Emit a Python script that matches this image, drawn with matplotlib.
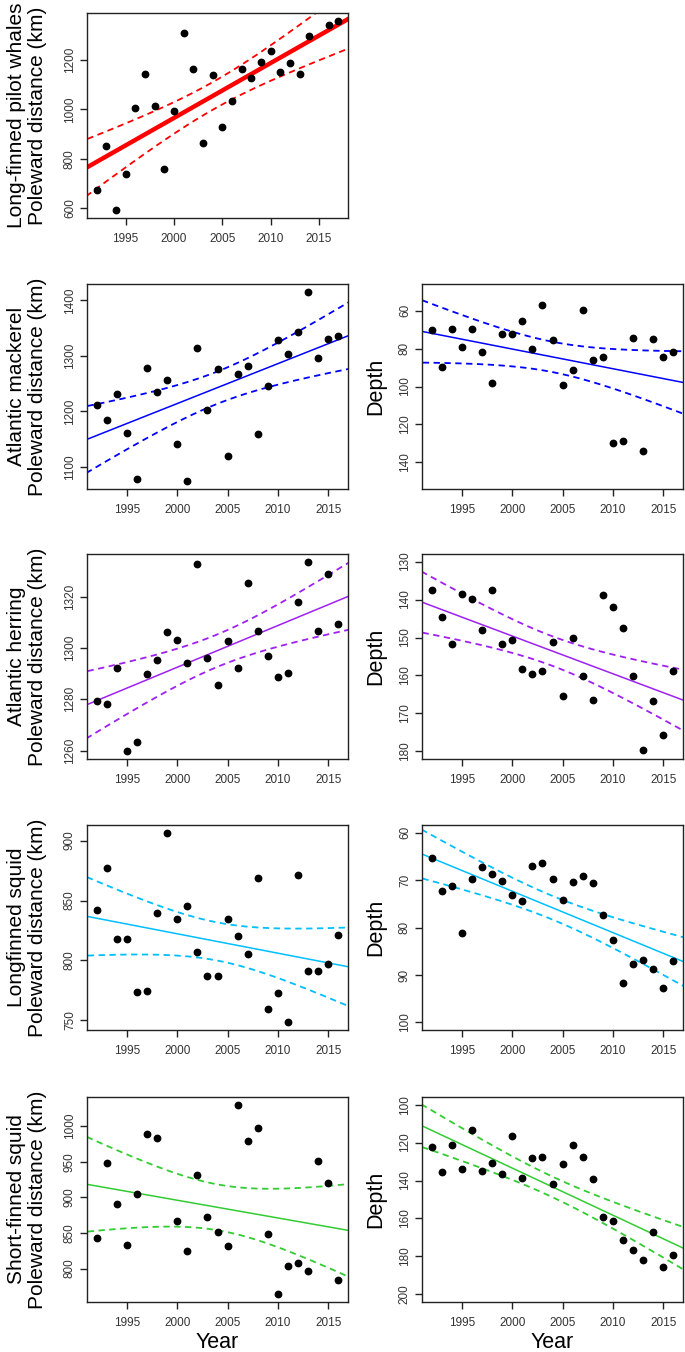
import math
import numpy as np
import matplotlib
matplotlib.use("Agg")
import matplotlib.pyplot as plt

plt.rcParams['font.family'] = ['Liberation Sans', 'DejaVu Sans']

# ---------------- data ----------------
years_all = list(range(1992, 2017))

whale_years = list(range(1992, 2015)) + [2016, 2017]
whale_dist = [671, 851, 590, 737, 1004, 1143, 1014, 757, 992, 1310, 1166, 862, 1139,
              928, 1034, 1166, 1128, 1194, 1239, 1153, 1190, 1143, 1300, 1344, 1361]

mack_years = years_all
mack_dist = [1212, 1185, 1231, 1162, 1078, 1279, 1235, 1256, 1141, 1074, 1315, 1202, 1277,
             1120, 1267, 1282, 1160, 1246, 1328, 1304, 1344, 1416, 1296, 1330, 1336]
mack_depth = [70.0, 89.6, 69.5, 79.3, 69.5, 81.6, 98.2, 72.5, 72.5, 65.7, 80.5, 57.3, 75.5,
              99.4, 91.4, 59.6, 85.9, 84.2, 130.0, 128.7, 74.2, 134.1, 74.9, 84.7, 81.6]

herr_years = years_all
herr_dist = [1279.4, 1278.0, 1292.2, 1259.7, 1263.5, 1290.0, 1295.3, 1306.3, 1303.1, 1294.0,
             1332.9, 1296.2, 1285.4, 1302.6, 1292.2, 1325.4, 1306.7, 1296.7, 1288.9, 1290.3,
             1318.1, 1333.7, 1306.7, 1328.7, 1309.4]
herr_depth = [137.5, 144.7, 151.8, 138.5, 139.8, 148.1, 137.5, 151.6, 150.6, 158.4, 159.6,
              158.7, 151.2, 165.5, 150.2, 160.2, 166.4, 138.8, 141.9, 147.5, 160.2, 179.7,
              166.7, 175.7, 158.7]

lsq_years = years_all
lsq_dist = [842.5, 877.5, 818.3, 818.3, 773.6, 774.7, 839.7, 906.7, 834.7, 845.6, 806.7,
            787.2, 787.2, 834.7, 820.3, 805.8, 868.9, 759.2, 772.8, 748.3, 871.7, 791.1,
            791.1, 796.9, 821.1]
lsq_depth = [65.3, 72.4, 71.2, 81.2, 69.7, 67.2, 68.7, 70.2, 73.2, 74.4, 67.0, 66.5, 69.7,
             74.3, 70.4, 69.2, 70.6, 77.3, 82.7, 91.7, 87.6, 86.9, 88.8, 92.7, 87.1]

ssq_dist_years = list(range(1992, 1999)) + list(range(2000, 2017))
ssq_dist = [842.7, 947.9, 890.1, 832.9, 905.2, 989.2, 983.6, 867.1, 824.4, 931.5, 872.3,
            851.2, 831.0, 1030.0, 978.9, 996.7, 847.9, 763.8, 803.3, 808.0, 796.7, 951.2,
            920.7, 783.6]
ssq_depth_years = years_all
ssq_depth = [122.6, 135.7, 121.4, 133.9, 113.4, 135.0, 130.6, 136.4, 116.6, 138.7, 128.1,
             127.6, 141.9, 131.4, 121.4, 127.6, 139.4, 159.0, 161.5, 171.4, 176.5, 182.0,
             167.1, 185.7, 179.5]

species = ["Long-finned pilot whales", "Atlantic mackerel", "Atlantic herring",
           "Longfinned squid", "Short-finned squid"]
colors = ["#FF0000", "#0000FF", "#A020F0", "#00BFFF", "#33CC33"]
depth_limits = [None, (150, 50), (180, 130), (100, 60), (200, 100)]
year_ticks = [1995, 2000, 2005, 2010, 2015]

dist_sets = [(whale_years, whale_dist), (mack_years, mack_dist), (herr_years, herr_dist),
             (lsq_years, lsq_dist), (ssq_dist_years, ssq_dist)]
depth_sets = [None, (mack_years, mack_depth), (herr_years, herr_depth),
              (lsq_years, lsq_depth), (ssq_depth_years, ssq_depth)]


# ---------------- helpers ----------------
def t_quantile(p, df):
    c = math.gamma((df + 1) / 2) / (math.sqrt(df * math.pi) * math.gamma(df / 2))
    def cdf(t):
        xs = np.linspace(0, t, 4001)
        ys = c * (1 + xs ** 2 / df) ** (-(df + 1) / 2)
        return 0.5 + np.trapezoid(ys, xs)
    lo, hi = 0.0, 10.0
    for _ in range(60):
        mid = (lo + hi) / 2
        if cdf(mid) < p:
            lo = mid
        else:
            hi = mid
    return (lo + hi) / 2


def fit_ci(x, y, xg):
    x = np.asarray(x, float)
    y = np.asarray(y, float)
    n = len(x)
    b, a = np.polyfit(x, y, 1)
    resid = y - (a + b * x)
    s = math.sqrt(np.sum(resid ** 2) / (n - 2))
    sxx = np.sum((x - x.mean()) ** 2)
    se = s * np.sqrt(1 / n + (xg - x.mean()) ** 2 / sxx)
    t = t_quantile(0.975, n - 2)
    fit = a + b * xg
    return fit, fit - t * se, fit + t * se


def r_range(lo, hi):
    d = (hi - lo) * 0.04
    return lo - d, hi + d


def style_axes(ax):
    for sp in ax.spines.values():
        sp.set_linewidth(1.0)
        sp.set_color("#222222")
    ax.tick_params(axis='both', direction='out', length=5, width=1.0,
                   colors="#222222", labelsize=8.5, labelcolor="#333333")
    ax.tick_params(axis='x', pad=6)
    ax.tick_params(axis='y', pad=3)
    for lab in ax.get_yticklabels():
        lab.set_rotation(90)
        lab.set_va('center')


def panel(ax, x, y, color, lw, ylim=None, invert=False, yticks=None):
    xlim = r_range(min(x), max(x))
    if ylim is None:
        ylim = r_range(min(y), max(y))
    else:
        ylim = r_range(min(ylim), max(ylim))
    xg = np.linspace(xlim[0] - 1, xlim[1] + 1, 300)
    fit, lo, hi = fit_ci(x, y, xg)
    ax.plot(xg, fit, color=color, lw=lw, solid_capstyle='butt', zorder=2)
    ax.plot(xg, lo, color=color, lw=1.3, ls=(0, (3.5, 2.5)), zorder=2)
    ax.plot(xg, hi, color=color, lw=1.3, ls=(0, (3.5, 2.5)), zorder=2)
    ax.plot(x, y, 'o', color='black', ms=4.6, zorder=3)
    ax.set_xlim(*xlim)
    if invert:
        ax.set_ylim(ylim[1], ylim[0])
    else:
        ax.set_ylim(*ylim)
    ax.set_xticks(year_ticks)
    if yticks is not None:
        ax.set_yticks(yticks)


# ---------------- figure ----------------
W, H = 685, 1352
fig = plt.figure(figsize=(W / 100, H / 100), dpi=100)

row_tops = [13, 284, 554, 825, 1097]
ph = 205
lx0, rx0, pw = 87, 422, 261

dist_yticks = [[600, 800, 1000, 1200], [1100, 1200, 1300, 1400], [1260, 1280, 1300, 1320],
               [750, 800, 850, 900], [800, 850, 900, 950, 1000]]
depth_yticks = [None, [60, 80, 100, 120, 140], [130, 140, 150, 160, 170, 180],
                [60, 70, 80, 90, 100], [100, 120, 140, 160, 180, 200]]

for i in range(5):
    top = row_tops[i]
    bottom_frac = 1 - (top + ph) / H
    ycen = 1 - (top + ph / 2) / H
    ax = fig.add_axes([lx0 / W, bottom_frac, pw / W, ph / H])
    x, y = dist_sets[i]
    panel(ax, x, y, colors[i], 3.2 if i == 0 else 1.1, yticks=dist_yticks[i])
    style_axes(ax)
    fig.text(27 / W, ycen, species[i] + "\nPoleward distance (km)", fontsize=15,
             rotation=90, ha='center', va='center', multialignment='center',
             linespacing=1.15)
    if i == 4:
        fig.text((lx0 + pw / 2) / W, 1 - 1342 / H, "Year", fontsize=15.5,
                 ha='center', va='center')

    if depth_sets[i] is not None:
        ax2 = fig.add_axes([rx0 / W, bottom_frac, pw / W, ph / H])
        x2, y2 = depth_sets[i]
        panel(ax2, x2, y2, colors[i], 1.1, ylim=depth_limits[i], invert=True,
              yticks=depth_yticks[i])
        style_axes(ax2)
        fig.text(376 / W, ycen, "Depth", fontsize=15.5, rotation=90,
                 ha='center', va='center')
        if i == 4:
            fig.text((rx0 + pw / 2) / W, 1 - 1342 / H, "Year", fontsize=15.5,
                     ha='center', va='center')

fig.savefig("out.png", dpi=100)
